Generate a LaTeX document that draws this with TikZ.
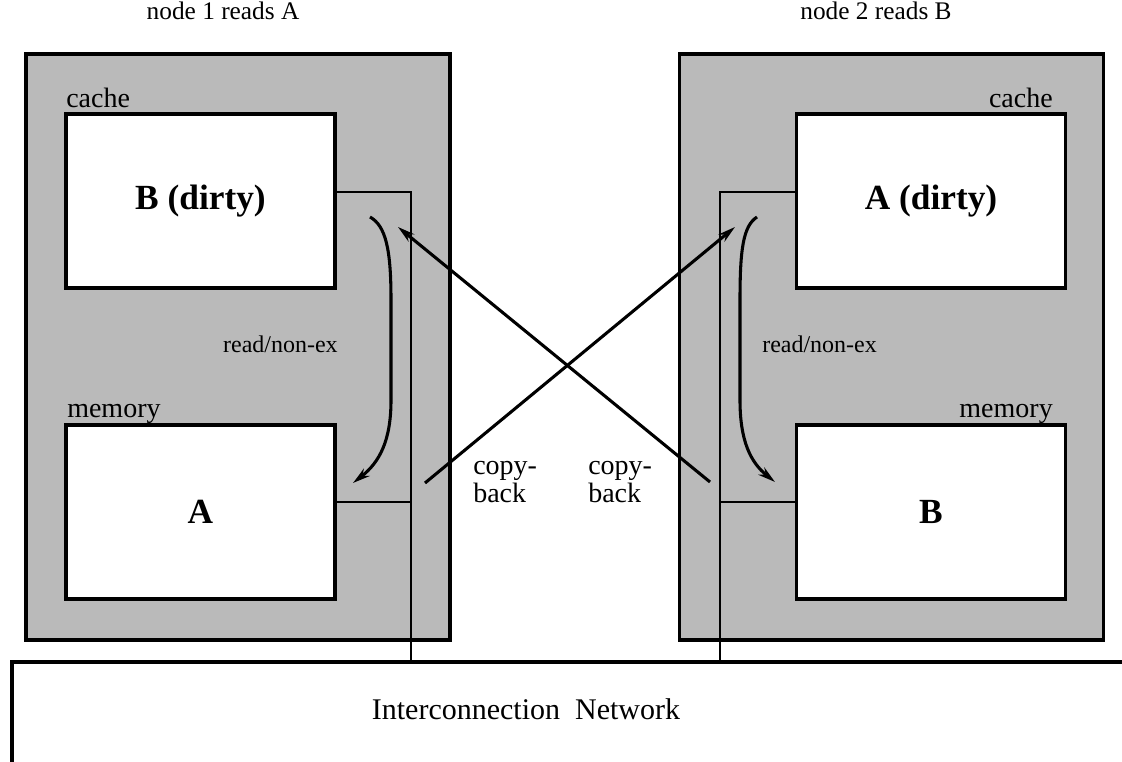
\documentclass[tikz,border=0pt]{standalone}
\usepackage{fontspec}
\setmainfont{Liberation Serif}
\usetikzlibrary{arrows.meta}
\begin{document}
\begin{tikzpicture}[x=0.75pt,y=-0.75pt,
  nodebox/.style={draw=black,line width=2.3pt,fill=black!27,minimum width=318pt,minimum height=439.5pt,inner sep=0pt},
  unitbox/.style={draw=black,line width=2.6pt,fill=white,minimum width=202pt,minimum height=130.5pt,inner sep=0pt,font=\fontsize{26.5}{30}\selectfont\bfseries},
  link/.style={line width=2pt},
  flow/.style={line width=2.3pt,-{Stealth[length=13pt,width=7pt]}},
  lbl/.style={font=\fontsize{21}{22}\selectfont,inner sep=0pt},
  head/.style={font=\fontsize{19}{22}\selectfont,inner sep=0pt},
  note/.style={font=\fontsize{18}{20}\selectfont,inner sep=0pt},
  cb/.style={font=\fontsize{21}{21}\selectfont,inner sep=0pt,align=left,anchor=west}]
\useasboundingbox (0,0) rectangle (1122,762);

% processing nodes
\node[nodebox] (p1) at (238,347) {};
\node[nodebox] (p2) at (891.5,347) {};

% cache and memory of node 1
\node[unitbox] (c1) at (200.5,201) {B (dirty)};
\node[unitbox] (m1) at (200.5,512) {A};
% cache and memory of node 2
\node[unitbox] (c2) at (931,201) {A (dirty)};
\node[unitbox] (m2) at (931,512) {B};

\node[lbl,anchor=base west] (lc1) at (66,108) {cache};
\node[lbl,anchor=base west] (lm1) at (67,418) {memory};
\node[lbl,anchor=base east] (lc2) at (1053,108) {cache};
\node[lbl,anchor=base east] (lm2) at (1053,418) {memory};

\node[head,anchor=base] (h1) at (223,20) {node 1 reads A};
\node[head,anchor=base] (h2) at (876,20) {node 2 reads B};

% interconnection network
\coordinate (net) at (12,662);
\draw[line width=3pt] (1122,662) -- (net) -- (12,762);
\node[font=\fontsize{22.5}{24}\selectfont,anchor=base] (in) at (526,720) {Interconnection\ \ Network};

% local buses to the network
\coordinate (j1) at (411,192);
\coordinate (k1) at (411,502);
\coordinate (j2) at (720,192);
\coordinate (k2) at (720,502);
\draw[link] (c1.east |- j1) -- (j1) -- (j1 |- net);
\draw[link] (m1.east |- k1) -- (k1);
\draw[link] (c2.west |- j2) -- (j2) -- (j2 |- net);
\draw[link] (m2.west |- k2) -- (k2);

% read/non-exclusive transfers from cache to memory
\coordinate (r1s) at (370,217);
\coordinate (r1e) at (353,483);
\draw[flow] (r1s) .. controls (386,226) and (391,250) .. (391,300) -- (391,400) .. controls (391,440) and (380,462) .. (r1e);
\node[note,anchor=base east] (rn1) at (338,353) {read/non-ex};

\coordinate (r2s) at (757,217);
\coordinate (r2e) at (775,482);
\draw[flow] (r2s) .. controls (743,226) and (740,250) .. (740,300) -- (740,400) .. controls (740,440) and (750,462) .. (r2e);
\node[note,anchor=base west] (rn2) at (762,353) {read/non-ex};

% copy-back transfers across the network
\coordinate (cb1s) at (425,483);
\coordinate (cb1e) at (735,227);
\coordinate (cb2s) at (710,482);
\coordinate (cb2e) at (398,227);
\draw[flow] (cb1s) -- (cb1e);
\draw[flow] (cb2s) -- (cb2e);
\node[cb] (t1) at (473,482) {copy-\\back};
\node[cb] (t2) at (588,482) {copy-\\back};
\end{tikzpicture}
\end{document}
